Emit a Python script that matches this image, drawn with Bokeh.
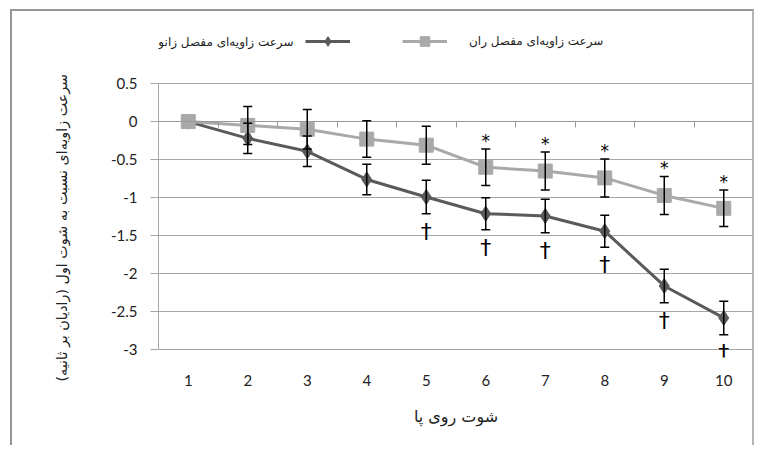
from bokeh.plotting import figure
from bokeh.models import (ColumnDataSource, Whisker, TeeHead, FixedTicker, LinearAxis,
                          NumeralTickFormatter, Legend, LegendItem, Label, Title, Range1d)
from bokeh.core.properties import value
from bokeh.embed import file_html
from bokeh.resources import INLINE

# ---------------- data ----------------
shots = [1, 2, 3, 4, 5, 6, 7, 8, 9, 10]
knee = [0, -0.22, -0.39, -0.76, -0.99, -1.21, -1.24, -1.44, -2.16, -2.58]
knee_err = [0, 0.20, 0.20, 0.20, 0.22, 0.21, 0.22, 0.21, 0.22, 0.22]
hip = [0, -0.05, -0.10, -0.23, -0.31, -0.60, -0.65, -0.74, -0.97, -1.14]
hip_err = [0, 0.25, 0.26, 0.24, 0.25, 0.24, 0.25, 0.25, 0.25, 0.24]
hip_star = [False, False, False, False, False, True, True, True, True, True]
knee_dagger = [False, False, False, False, True, True, True, True, True, True]
y_ticks = [0.5, 0, -0.5, -1, -1.5, -2, -2.5, -3]

knee_name = "سرعت زاویه‌ای مفصل زانو"
hip_name = "سرعت زاویه‌ای مفصل ران"
x_title = "شوت روی پا"
y_title = "سرعت زاویه‌ای نسبت به شوت اول (رادیان بر ثانیه)"

KNEE_C = "#5a5a5a"
HIP_C = "#a9a9a9"
GRID_C = "#a6a6a6"
FA = "DejaVu Sans"
FN = "Lato"

# frame reaches up to the legend row; the value axis itself is bounded to [-3, 0.5]
p = figure(width=744, height=436, x_range=Range1d(0.5, 10.5), y_range=Range1d(-3.1, 1.355),
           output_backend="svg", toolbar_location=None,
           min_border_left=146, min_border_right=3, min_border_top=7, min_border_bottom=90)
p.styles = {"margin-left": "10px", "margin-top": "9px",
            "border-left": "2px solid #959595", "border-top": "2px solid #959595",
            "border-right": "2px solid #b5b5b5"}
p.outline_line_color = None
p.background_fill_color = "white"
p.border_fill_color = "white"

# grid
p.xgrid.visible = False
p.ygrid.ticker = FixedTicker(ticks=y_ticks)
p.ygrid.grid_line_color = GRID_C
p.ygrid.grid_line_width = 1

# y axis
p.yaxis.ticker = FixedTicker(ticks=y_ticks)
p.yaxis.bounds = (-3, 0.5)
p.yaxis.formatter = NumeralTickFormatter(format="0.[0]")
p.yaxis.axis_line_color = GRID_C
p.yaxis.major_tick_line_color = GRID_C
p.yaxis.major_tick_out = 8
p.yaxis.major_tick_in = 0
p.yaxis.minor_tick_line_color = None
p.yaxis.major_label_text_font = FN
p.yaxis.major_label_text_font_size = "15px"
p.yaxis.major_label_text_color = "#222222"
p.yaxis.major_label_standoff = 13

p.add_layout(Title(text=y_title, align="left", offset=-24, standoff=75,
                   text_font=FA, text_font_size="14.3px", text_font_style="normal",
                   text_color="#222222"), "left")

# x axis (labels at bottom)
p.xaxis.ticker = FixedTicker(ticks=shots)
p.xaxis.axis_line_color = None
p.xaxis.major_tick_line_color = None
p.xaxis.minor_tick_line_color = None
p.xaxis.major_label_text_font = FN
p.xaxis.major_label_text_font_size = "15px"
p.xaxis.major_label_text_color = "#222222"
p.xaxis.major_label_standoff = 11
p.xaxis.axis_label = x_title
p.xaxis.axis_label_text_font = FA
p.xaxis.axis_label_text_font_size = "16px"
p.xaxis.axis_label_text_font_style = "normal"
p.xaxis.axis_label_text_color = "#222222"
p.xaxis.axis_label_standoff = 18

# category axis line crossing at zero, with ticks between categories
zero_axis = LinearAxis(fixed_location=0,
                       ticker=FixedTicker(ticks=[s - 0.5 for s in shots] + [shots[-1] + 0.5]))
zero_axis.axis_line_color = "#999999"
zero_axis.major_tick_line_color = "#999999"
zero_axis.major_tick_out = 6
zero_axis.major_tick_in = 0
zero_axis.minor_tick_line_color = None
zero_axis.major_label_text_font_size = "0px"
zero_axis.major_label_standoff = 0
p.add_layout(zero_axis, "below")

# series
knee_line = p.line(shots, knee, line_color=KNEE_C, line_width=3)
knee_mark = p.scatter(shots, knee, marker="diamond", size=15, fill_color=KNEE_C, line_color=KNEE_C)
hip_line = p.line(shots, hip, line_color=HIP_C, line_width=3)
hip_mark = p.scatter(shots, hip, marker="square", size=14, fill_color=HIP_C, line_color=HIP_C)

def err_source(vals, errs):
    xs, lo, hi = [], [], []
    for s, v, e in zip(shots, vals, errs):
        if e > 0:
            xs.append(s); lo.append(v - e); hi.append(v + e)
    return ColumnDataSource(dict(x=xs, lower=lo, upper=hi))

for vals, errs in ((knee, knee_err), (hip, hip_err)):
    src = err_source(vals, errs)
    w = Whisker(source=src, base="x", lower="lower", upper="upper", dimension="height",
                line_color="black", line_width=1.5, level="overlay",
                upper_head=TeeHead(size=9, line_color="black", line_width=1.5),
                lower_head=TeeHead(size=9, line_color="black", line_width=1.5))
    p.add_layout(w)

# significance marks
star_src = ColumnDataSource(dict(
    x=[s for s, f in zip(shots, hip_star) if f],
    y=[v + e for v, e, f in zip(hip, hip_err, hip_star) if f]))
p.text(x="x", y="y", text=value("*"), source=star_src, text_align="center",
       text_baseline="bottom", y_offset=2, text_font=value(FA), text_font_size="17px",
       text_color="black")
dag_src = ColumnDataSource(dict(
    x=[s for s, f in zip(shots, knee_dagger) if f],
    y=[v - e for v, e, f in zip(knee, knee_err, knee_dagger) if f]))
p.text(x="x", y="y", text=value("†"), source=dag_src, text_align="center",
       text_baseline="top", y_offset=5, text_font=value(FA), text_font_size="22px",
       text_color="black")

# legend (right-to-left style: knee text, knee glyph, hip glyph, hip text)
legend = Legend(items=[LegendItem(label=" ", renderers=[knee_line, knee_mark]),
                       LegendItem(label=hip_name, renderers=[hip_line, hip_mark])],
                location=(147, 304), orientation="horizontal", padding=0, margin=0,
                spacing=12, glyph_width=45, glyph_height=24, label_height=24,
                label_width=18, label_standoff=22, border_line_color=None,
                background_fill_alpha=0, label_text_font=FA, label_text_font_size="12px",
                label_text_color="#222222")
p.add_layout(legend)
p.add_layout(Label(x=135, y=316, x_units="screen", y_units="screen", text=knee_name,
                   text_align="right", text_baseline="middle", text_font=FA,
                   text_font_size="12px", text_color="#222222"))

open("out.html", "w").write(file_html(p, INLINE))
